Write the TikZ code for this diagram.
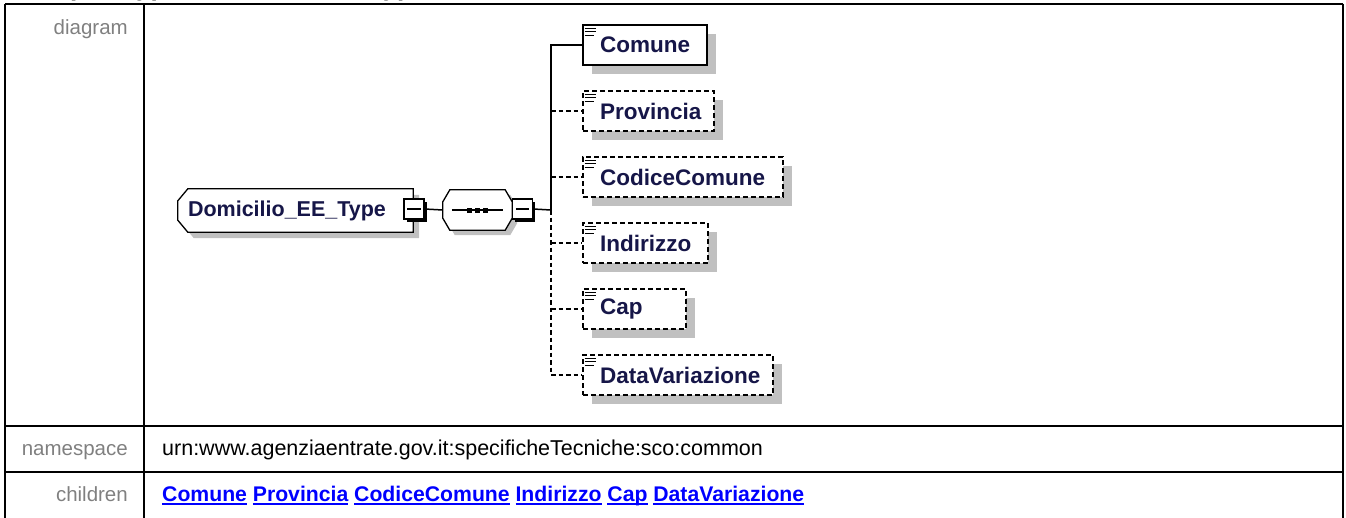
\documentclass[tikz,border=0pt]{standalone}
\usepackage{fontspec}
\setmainfont{Liberation Sans}
\usetikzlibrary{shadows}
\definecolor{labelgray}{RGB}{128,128,128}
\definecolor{shadowgray}{RGB}{192,192,192}
\definecolor{elemtext}{RGB}{22,22,72}
\definecolor{linkblue}{RGB}{0,0,255}
\newcommand{\childlink}[1]{\setbox0\hbox{#1}\rlap{\rule[-3.5pt]{\wd0}{1.8pt}}\box0\relax}

\begin{document}
\begin{tikzpicture}[x=1pt, y=-1pt,
    every node/.style={inner sep=0pt},
    rowlabel/.style={anchor=base east, text=labelgray, font=\fontsize{20.5}{24}\selectfont},
    rowvalue/.style={anchor=base west, font=\fontsize{21.5}{25}\selectfont},
    elembox/.style={draw, line width=1.5pt, fill=white, minimum height=40pt, anchor=west,
        drop shadow={shadow xshift=9pt, shadow yshift=-9pt, fill=shadowgray, opacity=1}},
    optbox/.style={elembox, dash pattern=on 5pt off 3pt},
    elemname/.style={anchor=west, text=elemtext, font=\fontsize{22.5}{26}\selectfont\bfseries},
    minusbox/.style={draw, line width=1.3pt, fill=white, minimum size=20pt,
        drop shadow={shadow xshift=2.5pt, shadow yshift=-2.5pt, fill=black, opacity=1}},
    conn/.style={line width=1.5pt},
    optconn/.style={conn, dash pattern=on 4.5pt off 3pt},
    outline/.style={draw, line width=1.3pt, fill=white},
    shadowfill/.style={fill=shadowgray},
    elemicon/.pic={\draw[line width=1.2pt] (0,0) -- (11,0) (0,3.5) -- (11,3.5) (0,7) -- (9,7);}
]
    \useasboundingbox (0,0) rectangle (1346,517);
    \clip (0,0) rectangle (1346,517);

    % title, cut off at the top
    \node[anchor=base west, font=\fontsize{26}{30}\selectfont\bfseries] (title) at (16.5,-4.5) {complexType Domicilio\_EE\_Type};

    % table
    \draw[line width=2pt] (5,3.5) -- (1343,3.5) (5,3.5) -- (5,530) (1343,3.5) -- (1343,530)
        (144,3.5) -- (144,530) (5,426) -- (1343,426) (5,471.7) -- (1343,471.7);
    \node[rowlabel] (lbldiagram) at (128,34.5) {diagram};
    \node[rowlabel] (lblns) at (128,455) {namespace};
    \node[rowvalue] (ns) at (162,455) {urn:www.agenziaentrate.gov.it:specificheTecniche:sco:common};
    \node[rowlabel] (lblchildren) at (128,501.7) {children};
    \node[rowvalue, text=linkblue, font=\fontsize{21.2}{25}\selectfont\bfseries] (children) at (162,501.7)
        {\childlink{Comune} \childlink{Provincia} \childlink{CodiceComune} \childlink{Indirizzo} \childlink{Cap} \childlink{DataVariazione}};

    % complex type
    \node[minimum width=235pt, minimum height=43pt] (dom) at (295.5,210.5) {};
    \foreach \sh/\st in {6pt/shadowfill, 0pt/outline}
        \path[transform canvas={shift={(\sh,-\sh)}}, \st] ([xshift=10pt]dom.north west) -- (dom.north east)
            -- (dom.south east) -- ([xshift=10pt]dom.south west) -- ([yshift=12pt]dom.south west)
            -- ([yshift=-12pt]dom.north west) -- cycle;
    \node[elemname, font=\fontsize{21.5}{25}\selectfont\bfseries] (domname) at ([xshift=10pt]dom.west) {Domicilio\_EE\_Type};
    \node[minusbox] (dmin) at (414,209) {};
    \draw[line width=1.3pt] ([xshift=4pt]dmin.west) -- ([xshift=-4pt]dmin.east);

    % sequence
    \node[minimum width=69pt, minimum height=40pt] (seq) at (477.5,210) {};
    \foreach \sh/\st in {5pt/shadowfill, 0pt/outline}
        \path[transform canvas={shift={(\sh,-\sh)}}, \st] ([xshift=7pt]seq.north west) -- ([xshift=-7pt]seq.north east)
            -- ([yshift=-12pt]seq.north east) -- ([yshift=12pt]seq.south east) -- ([xshift=-7pt]seq.south east)
            -- ([xshift=7pt]seq.south west) -- ([yshift=12pt]seq.south west) -- ([yshift=-12pt]seq.north west) -- cycle;
    \draw[line width=1.3pt] ([xshift=9pt]seq.west) -- ([xshift=-9pt]seq.east);
    \foreach \dx in {-8,0,8}
        \fill ([xshift=\dx pt]seq.center) +(-2.5,-2.5) rectangle +(2.5,2.5);
    \node[minusbox] (smin) at (522.5,209) {};
    \draw[line width=1.3pt] ([xshift=4pt]smin.west) -- ([xshift=-4pt]smin.east);
    \draw[conn] (dmin.east) -- (seq.west);
    \coordinate (trunk) at (551,210);
    \draw[conn] (smin.east) -- (trunk);

    % children
    \node[elembox, minimum width=124pt] (c1) at (582,45) {};
    \node[optbox, minimum width=131pt] (c2) at (582,111) {};
    \node[optbox, minimum width=200pt] (c3) at (582,177) {};
    \node[optbox, minimum width=125pt] (c4) at (582,243) {};
    \node[optbox, minimum width=103pt] (c5) at (582,309) {};
    \node[optbox, minimum width=190pt] (c6) at (582,375) {};
    \node[elemname] (n1) at ([xshift=18pt]c1.west) {Comune};
    \node[elemname] (n2) at ([xshift=18pt]c2.west) {Provincia};
    \node[elemname] (n3) at ([xshift=18pt]c3.west) {CodiceComune};
    \node[elemname] (n4) at ([xshift=18pt]c4.west) {Indirizzo};
    \node[elemname] (n5) at ([xshift=18pt]c5.west) {Cap};
    \node[elemname] (n6) at ([xshift=18pt]c6.west) {DataVariazione};
    \foreach \c in {c1,c2,c3,c4,c5,c6}
        \pic at ([shift={(2.5,4)}]\c.north west) {elemicon};

    % connectors
    \draw[conn] (trunk) -- (trunk |- c1.west) -- (c1.west);
    \foreach \c in {c2,c3,c4,c5}
        \draw[optconn] (trunk |- \c.west) -- (\c.west);
    \draw[optconn] (trunk) -- (trunk |- c6.west) -- (c6.west);
\end{tikzpicture}
\end{document}
